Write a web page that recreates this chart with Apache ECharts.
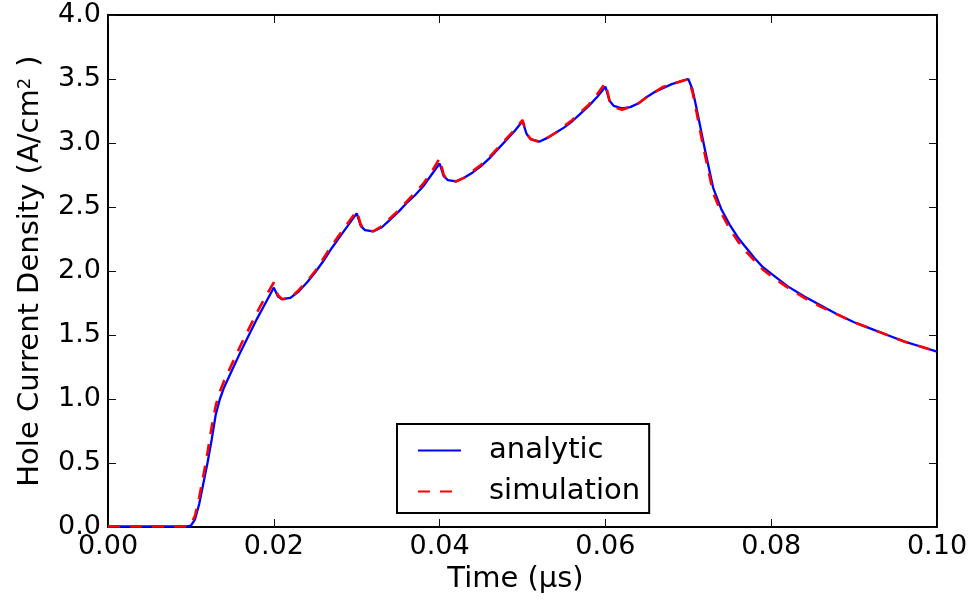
<!DOCTYPE html>
<html><head><meta charset="utf-8">
<script src="https://cdn.jsdelivr.net/npm/echarts@6/dist/echarts.min.js"></script>
<style>html,body{margin:0;padding:0;background:#fff}#c{width:974px;height:601px}</style>
</head><body><div id="c"></div>
<script>
const time = [0, 0.005, 0.0095, 0.0100, 0.0105, 0.0110, 0.0115, 0.0120, 0.0125, 0.0130, 0.0135, 0.0140, 0.0150, 0.0160, 0.0170, 0.0180, 0.0190,
  0.0200, 0.0205, 0.0210, 0.0220, 0.0230, 0.0240, 0.0250, 0.0260, 0.0270, 0.0280, 0.0290,
  0.0300, 0.0305, 0.0310, 0.0320, 0.0330, 0.0340, 0.0350, 0.0360, 0.0370, 0.0380, 0.0390,
  0.0400, 0.0405, 0.0410, 0.0420, 0.0430, 0.0440, 0.0450, 0.0460, 0.0470, 0.0480, 0.0490,
  0.0500, 0.0505, 0.0510, 0.0520, 0.0530, 0.0540, 0.0550, 0.0560, 0.0570, 0.0580, 0.0590,
  0.0600, 0.0605, 0.0610, 0.0620, 0.0630, 0.0640, 0.0650, 0.0660, 0.0670, 0.0680, 0.0690,
  0.0700, 0.0705, 0.0710, 0.0715, 0.0720, 0.0730, 0.0740, 0.0750, 0.0760, 0.0770, 0.0780, 0.0790,
  0.0800, 0.0820, 0.0840, 0.0860, 0.0880, 0.0900, 0.0920, 0.0940, 0.0960, 0.0980, 0.1000];

const analytic = [0.005, 0.005, 0.005, 0.01, 0.06, 0.18, 0.34, 0.50, 0.68, 0.88, 1.00, 1.09, 1.23, 1.37, 1.50, 1.63, 1.75,
  1.87, 1.80, 1.78, 1.79, 1.84, 1.91, 1.99, 2.08, 2.18, 2.27, 2.36,
  2.45, 2.35, 2.32, 2.31, 2.34, 2.40, 2.46, 2.53, 2.59, 2.66, 2.75,
  2.84, 2.74, 2.71, 2.70, 2.73, 2.77, 2.82, 2.88, 2.95, 3.02, 3.09,
  3.17, 3.07, 3.03, 3.01, 3.04, 3.08, 3.12, 3.17, 3.23, 3.29, 3.36,
  3.44, 3.33, 3.29, 3.27, 3.28, 3.31, 3.36, 3.40, 3.43, 3.46, 3.48,
  3.50, 3.42, 3.27, 3.11, 2.95, 2.65, 2.48, 2.36, 2.26, 2.18, 2.10, 2.03,
  1.98, 1.88, 1.80, 1.73, 1.66, 1.60, 1.55, 1.50, 1.45, 1.41, 1.37];

const simulation = [0.005, 0.005, 0.005, 0.02, 0.09, 0.23, 0.40, 0.58, 0.78, 0.95, 1.06, 1.14, 1.28, 1.42, 1.55, 1.68, 1.80,
  1.91, 1.81, 1.78, 1.79, 1.85, 1.92, 2.00, 2.10, 2.20, 2.29, 2.38,
  2.47, 2.36, 2.32, 2.31, 2.35, 2.41, 2.47, 2.54, 2.61, 2.68, 2.77,
  2.88, 2.75, 2.71, 2.70, 2.73, 2.78, 2.83, 2.89, 2.96, 3.03, 3.10,
  3.18, 3.07, 3.03, 3.01, 3.04, 3.08, 3.13, 3.18, 3.24, 3.30, 3.38,
  3.47, 3.33, 3.28, 3.26, 3.28, 3.31, 3.36, 3.40, 3.44, 3.46, 3.48,
  3.50, 3.40, 3.24, 3.07, 2.91, 2.61, 2.45, 2.33, 2.23, 2.15, 2.08, 2.01,
  1.96, 1.87, 1.79, 1.72, 1.66, 1.60, 1.55, 1.50, 1.45, 1.41, 1.37];

const xTicks = [0.00, 0.02, 0.04, 0.06, 0.08, 0.10];
const yTicks = [0.0, 0.5, 1.0, 1.5, 2.0, 2.5, 3.0, 3.5, 4.0];
const seriesNames = ['analytic', 'simulation'];
const xTitle = 'Time (μs)';

const FONT = 'DejaVu Sans';
const pairs = (ys) => time.map((t, i) => [t, ys[i]]);
const xInt = +(xTicks[1] - xTicks[0]).toFixed(6);
const yInt = +(yTicks[1] - yTicks[0]).toFixed(6);

const tickStyle = { show: true, inside: true, length: 8, lineStyle: { color: '#111', width: 1 } };
const lineAx = { show: true, onZero: false, lineStyle: { color: '#000', width: 2 } };

const chart = echarts.init(document.getElementById('c'), null, { renderer: 'canvas' });
chart.setOption({
  backgroundColor: '#fff',
  animation: false,
  grid: { left: 108, top: 15, right: 37, bottom: 74, containLabel: false },
  legend: {
    orient: 'vertical',
    left: 397, top: 424,
    padding: [11, 9, 6, 20],
    borderColor: '#000', borderWidth: 2,
    itemWidth: 43, itemHeight: 14, itemGap: 10,
    data: seriesNames,
    itemStyle: { opacity: 0 },
    textStyle: { fontFamily: FONT, fontSize: 29, color: '#000', lineHeight: 31, padding: [0, 0, 0, 23] }
  },
  xAxis: [
    { type: 'value', position: 'bottom', min: xTicks[0], max: xTicks[xTicks.length - 1], interval: xInt,
      axisLine: lineAx, axisTick: tickStyle, splitLine: { show: false },
      axisLabel: { fontFamily: FONT, fontSize: 27, color: '#000', margin: 6, formatter: v => v.toFixed(2) },
      name: xTitle, nameLocation: 'middle', nameGap: 36,
      nameTextStyle: { fontFamily: FONT, fontSize: 29, color: '#000', padding: [0, 14, 0, 0] } },
    { type: 'value', position: 'top', min: xTicks[0], max: xTicks[xTicks.length - 1], interval: xInt,
      axisLine: lineAx, axisTick: tickStyle, splitLine: { show: false }, axisLabel: { show: false } }
  ],
  yAxis: [
    { type: 'value', position: 'left', min: yTicks[0], max: yTicks[yTicks.length - 1], interval: yInt,
      axisLine: lineAx, axisTick: tickStyle, splitLine: { show: false },
      axisLabel: { fontFamily: FONT, fontSize: 27, color: '#000', margin: 7, formatter: v => v.toFixed(1) },
      name: '{n|Hole Current Density (A/cm}{s|2}{n| )}', nameLocation: 'middle', nameGap: 63, nameRotate: 90,
      nameTextStyle: { fontFamily: FONT, fontSize: 29, color: '#000',
        rich: { n: { fontFamily: FONT, fontSize: 29, color: '#000' },
                s: { fontFamily: FONT, fontSize: 18, color: '#000', verticalAlign: 'top', padding: [0, 2, 10, 0] } } } },
    { type: 'value', position: 'right', min: yTicks[0], max: yTicks[yTicks.length - 1], interval: yInt,
      axisLine: lineAx, axisTick: tickStyle, splitLine: { show: false }, axisLabel: { show: false } }
  ],
  series: [
    { name: seriesNames[0], type: 'line', data: pairs(analytic), symbol: 'none', showSymbol: false,
      lineStyle: { color: '#0000ff', width: 2.3 }, itemStyle: { color: '#0000ff' }, z: 2 },
    { name: seriesNames[1], type: 'line', data: pairs(simulation), symbol: 'none', showSymbol: false,
      lineStyle: { color: '#ff0000', width: 2.6, type: [12, 10] }, itemStyle: { color: '#ff0000' }, z: 3 }
  ]
});
</script></body></html>
